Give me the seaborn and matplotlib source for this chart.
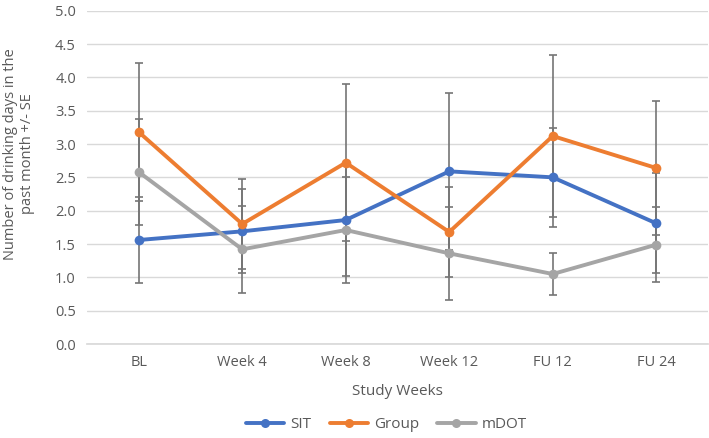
import numpy as np
import pandas as pd
import matplotlib
matplotlib.use("Agg")
import matplotlib.pyplot as plt
import seaborn as sns
from matplotlib.lines import Line2D

categories = ["BL", "Week 4", "Week 8", "Week 12", "FU 12", "FU 24"]
sit = [1.56, 1.69, 1.86, 2.59, 2.50, 1.81]
group = [3.18, 1.80, 2.72, 1.68, 3.12, 2.64]
mdot = [2.58, 1.42, 1.71, 1.36, 1.05, 1.49]
sit_se = [0.64, 0.63, 0.84, 1.18, 0.745, 0.75]
group_se = [1.04, 0.68, 1.175, 0.68, 1.21, 1.01]
mdot_se = [0.80, 0.65, 0.80, 0.70, 0.32, 0.56]
series_names = ["SIT", "Group", "mDOT"]
colors = ["#4472C4", "#ED7D31", "#A5A5A5"]

sns.set_theme(style="white")
plt.rcParams["font.family"] = ["Open Sans", "DejaVu Sans"]

rows = []
for name, vals in zip(series_names, [sit, group, mdot]):
    for i, v in enumerate(vals):
        rows.append({"pos": i, "value": v, "series": name})
df = pd.DataFrame(rows)

fig = plt.figure(figsize=(7.09, 4.38), dpi=100)
ax = fig.add_axes([87 / 709, 1 - 344 / 438, (708 - 87) / 709, (344 - 10.7) / 438])

x = np.arange(len(categories))
for vals, se in zip([sit, group, mdot], [sit_se, group_se, mdot_se]):
    ax.errorbar(x, vals, yerr=se, fmt="none", ecolor="#757575", elinewidth=1.2,
                capsize=3, capthick=1.2, zorder=2)

sns.lineplot(data=df, x="pos", y="value", hue="series", palette=colors,
             hue_order=series_names, marker="o", markersize=7, markeredgewidth=0,
             linewidth=2.8, ax=ax, zorder=3, legend=False)

ax.set_xlim(-0.5, len(categories) - 0.5)
ax.set_ylim(0, 5)
ax.set_yticks(np.arange(0, 5.01, 0.5))
ax.set_yticklabels([f"{v:.1f}" for v in np.arange(0, 5.01, 0.5)])
ax.set_xticks(x)
ax.set_xticklabels(categories)
ax.grid(axis="y", color="#D9D9D9", linewidth=1)
ax.set_axisbelow(True)
for s in ["top", "right", "left"]:
    ax.spines[s].set_visible(False)
ax.spines["bottom"].set_color("#D9D9D9")
ax.tick_params(axis="both", length=0, labelsize=10.5, labelcolor="#595959", pad=8)
ax.set_xlabel("Study Weeks", fontsize=11, color="#595959", labelpad=10)
ax.set_ylabel("Number of drinking days in the\npast month +/- SE", fontsize=10.5,
              color="#595959")
ax.yaxis.set_label_coords(-0.083, 0.57)

handles = [Line2D([0], [0], color=c, lw=2.8, marker="o", markersize=6.5, markeredgewidth=0)
           for c in colors]
fig.legend(handles, series_names, loc="center", bbox_to_anchor=(0.545, 1 - 425 / 438),
           ncol=3, frameon=False, fontsize=11, labelcolor="#595959",
           handlelength=2.5, columnspacing=1.2, handletextpad=0.4)

fig.savefig("out.png", dpi=100)
